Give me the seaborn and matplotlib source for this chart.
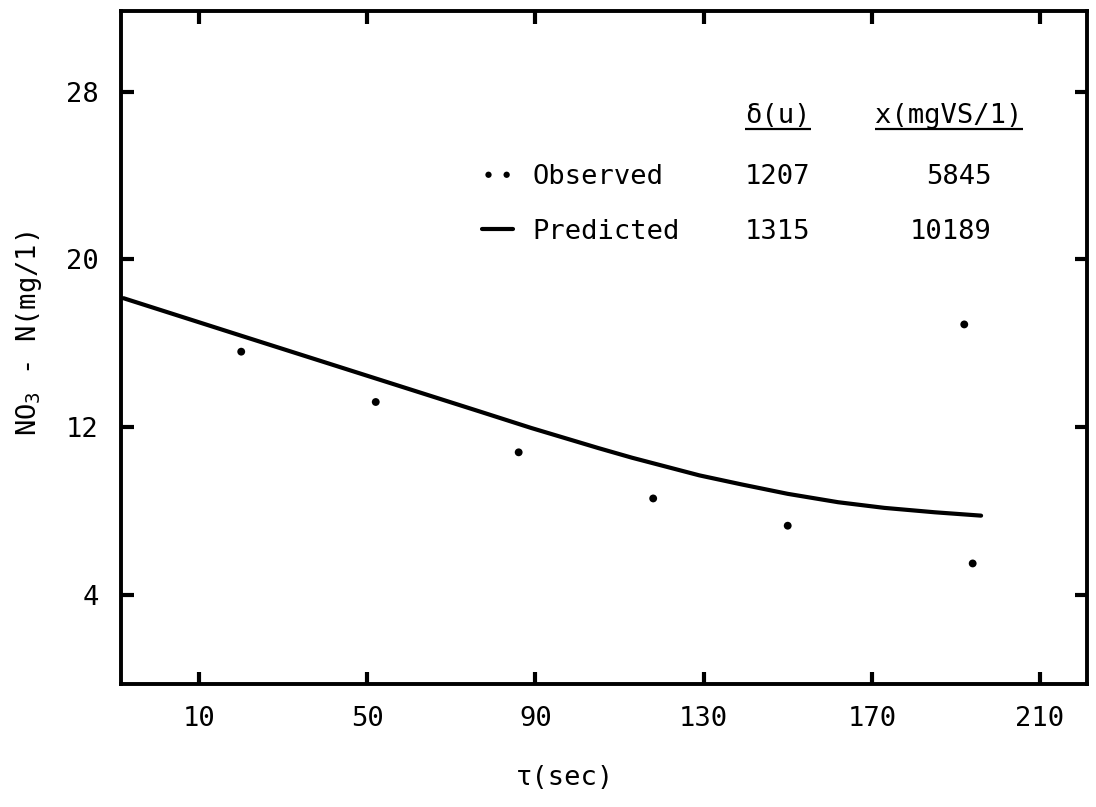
import matplotlib
matplotlib.use("Agg")
import matplotlib.pyplot as plt
import pandas as pd
import seaborn as sns
from matplotlib.collections import PathCollection
from matplotlib.legend_handler import HandlerPathCollection

# Observed nitrate concentration vs. contact time
obs_time = [20, 52, 86, 118, 150, 194, 192]
obs_no3 = [15.6, 13.2, 10.8, 8.6, 7.3, 5.5, 16.9]

# Model prediction
pred_time = [-8, 20, 58, 77, 89, 105, 113, 129, 139, 150, 162, 173, 185, 196]
pred_no3 = [18.15, 16.36, 13.94, 12.73, 11.96, 11.0, 10.54, 9.7, 9.27,
            8.82, 8.42, 8.15, 7.94, 7.78]

x_ticks = [10, 50, 90, 130, 170, 210]
y_ticks = [4, 12, 20, 28]

# Parameter table shown beside the legend
series_names = ["Observed", "Predicted"]
col_headers = ["δ(u)", "x(mgVS/1)"]
delta_u = [1207, 1315]
biomass = [5845, 10189]

sns.set_theme(style="ticks")
plt.rcParams["font.family"] = ["DejaVu Sans Mono", "DejaVu Sans"]
plt.rcParams["mathtext.fontset"] = "custom"
plt.rcParams["mathtext.rm"] = "DejaVu Sans Mono"
plt.rcParams["mathtext.it"] = "DejaVu Sans Mono"
plt.rcParams["mathtext.bf"] = "DejaVu Sans Mono:bold"
plt.rcParams["axes.edgecolor"] = "black"
plt.rcParams["axes.labelcolor"] = "black"
plt.rcParams["text.color"] = "black"
plt.rcParams["xtick.color"] = "black"
plt.rcParams["ytick.color"] = "black"

FS = 19.5
fig = plt.figure(figsize=(10.96, 8.07), dpi=100)
ax = fig.add_axes([0.1104, 0.1524, 0.8814, 0.8343])

obs = pd.DataFrame({"t": obs_time, "no3": obs_no3})
pred = pd.DataFrame({"t": pred_time, "no3": pred_no3})

sns.lineplot(data=pred, x="t", y="no3", ax=ax, color="black", linewidth=3,
             sort=False, label=series_names[1])
sns.scatterplot(data=obs, x="t", y="no3", ax=ax, color="black", s=32,
                edgecolor="none", label=series_names[0])

ax.set_xlim(-8.6, 221.2)
ax.set_ylim(-0.25, 31.86)
ax.set_xticks(x_ticks)
ax.set_yticks(y_ticks)
ax.tick_params(direction="in", length=9, width=3, top=True, right=True,
               labelsize=FS, pad=16)
for sp in ax.spines.values():
    sp.set_visible(True)
    sp.set_linewidth(2.8)
    sp.set_color("black")

ax.set_xlabel("τ(sec)", fontsize=FS, color="black")
ax.set_ylabel("NO$_3$ - N(mg/1)", fontsize=FS, color="black")
ax.xaxis.set_label_coords(0.46, -0.12)
ax.yaxis.set_label_coords(-0.080, 0.52)

handles, labels = ax.get_legend_handles_labels()
order = [labels.index(n) for n in series_names]
leg = ax.legend([handles[i] for i in order], [labels[i] for i in order],
                loc="upper left", bbox_to_anchor=(0.3737, 0.772),
                frameon=False, fontsize=FS, scatterpoints=2,
                scatteryoffsets=[0.5], handlelength=1.15, handletextpad=0.7,
                labelspacing=1.05, borderpad=0, borderaxespad=0,
                markerscale=0.8,
                handler_map={PathCollection: HandlerPathCollection(marker_pad=0.24)})

fig.canvas.draw()
to_axes = ax.transAxes.inverted()
row_y = []
for t in leg.get_texts():
    bb = t.get_window_extent()
    row_y.append(to_axes.transform((0, (bb.y0 + bb.y1) / 2))[1])

col1_x = 0.680
col2_x = 0.9017
head_y = 0.843
for r, y in enumerate(row_y):
    ax.text(col1_x, y, str(delta_u[r]), transform=ax.transAxes,
            fontsize=FS, ha="center", va="center")
    ax.text(col2_x, y, str(biomass[r]), transform=ax.transAxes,
            fontsize=FS, ha="right", va="center")

heads = [
    ax.text(col1_x, head_y, col_headers[0], transform=ax.transAxes,
            fontsize=FS, ha="center", va="center"),
    ax.text(0.857, head_y, col_headers[1], transform=ax.transAxes,
            fontsize=FS, ha="center", va="center"),
]
fig.canvas.draw()
for h in heads:
    bb = h.get_window_extent()
    (x0, _), (x1, _) = to_axes.transform([(bb.x0, 0), (bb.x1, 0)])
    ax.plot([x0, x1], [0.8243, 0.8243], transform=ax.transAxes,
            color="black", linewidth=1.6, solid_capstyle="butt")

fig.savefig("out.png", dpi=100, facecolor="white")
